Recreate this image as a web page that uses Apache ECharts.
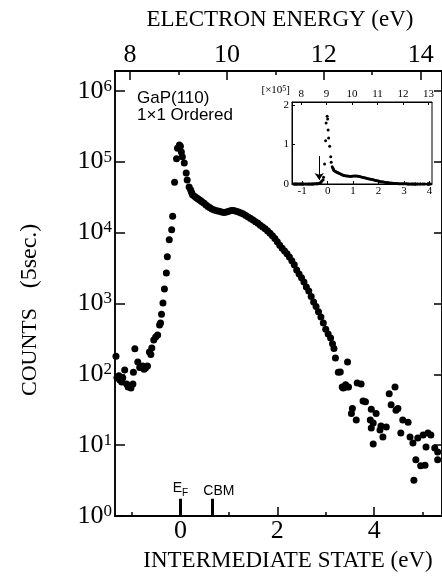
<!DOCTYPE html>
<html>
<head>
<meta charset="utf-8">
<script src="https://cdn.jsdelivr.net/npm/echarts@6/dist/echarts.min.js"></script>
<style>
html, body { margin: 0; padding: 0; background: #fff; }
#chart { width: 442px; height: 576px; }
</style>
</head>
<body>
<div id="chart"></div>
<script>
// intermediate state energy (eV)
const energies = [
    -1.33, -1.31, -1.27, -1.25, -1.21, -1.19, -1.15, -1.11, -1.08, -1.05, -1.02, -0.98, -0.97, -0.94,
    -0.88, -0.84, -0.78, -0.75, -0.72, -0.68, -0.64, -0.61, -0.59, -0.55, -0.51, -0.47, -0.43, -0.41,
    -0.39, -0.36, -0.33, -0.29, -0.27, -0.23, -0.18, -0.16, -0.12, -0.08, -0.06, -0.02, 0.00, 0.02,
    0.04, 0.08, 0.12, 0.14, 0.18, 0.21, 0.23, 0.25, 0.29, 0.33, 0.36, 0.39, 0.42, 0.45, 0.49, 0.53,
    0.57, 0.61, 0.65, 0.70, 0.75, 0.80, 0.85, 0.90, 0.95, 1.00, 1.05, 1.10, 1.15, 1.20, 1.25, 1.30,
    1.35, 1.40, 1.45, 1.50, 1.55, 1.60, 1.65, 1.70, 1.75, 1.80, 1.85, 1.90, 1.95, 2.00, 2.05, 2.10,
    2.15, 2.20, 2.25, 2.30, 2.35, 2.40, 2.45, 2.50, 2.55, 2.60, 2.65, 2.70, 2.75, 2.80, 2.85, 2.90,
    2.95, 3.00, 3.05, 3.10, 3.14, 3.17, 3.20, 3.26, 3.30, 3.34, 3.36, 3.41, 3.43, 3.45, 3.47, 3.53,
    3.55, 3.63, 3.65, 3.73, 3.77, 3.82, 3.92, 3.94, 3.94, 3.98, 3.98, 4.04, 4.12, 4.14, 4.18, 4.25,
    4.31, 4.35, 4.43, 4.45, 4.49, 4.55, 4.59, 4.70, 4.74, 4.80, 4.82, 4.86, 4.90, 4.96, 5.01, 5.05,
    5.07, 5.11, 5.17, 5.25, 5.31, 5.31
];
// counts per 5 sec
const counts = [
    180, 89, 95, 83, 78, 89, 115, 73, 66, 68, 64, 73, 107, 229,
    149, 125, 131, 118, 123, 131, 206, 190, 234, 304, 336, 357, 496, 530,
    700, 1010, 1590, 2690, 4540, 7900, 10900, 17000, 51000, 110000, 155000, 172000, 165000, 137000,
    117000, 96000, 69000, 55000, 44000, 40000, 37000, 34000, 32500, 31000, 30000, 29000, 28000, 27000, 25800, 24500,
    23300, 22300, 21500, 20800, 20300, 20000, 19500, 19100, 19500, 20000, 20400, 20400, 20000, 19500, 18800, 18200,
    17400, 16600, 15800, 15000, 14200, 13500, 12700, 12000, 11300, 10500, 9800, 9000, 8200, 7400, 6600, 6000,
    5500, 5000, 4500, 4000, 3500, 2950, 2600, 2300, 2000, 1700, 1500, 1250, 1050, 900, 760, 640,
    530, 430, 370, 325, 270, 230, 170, 107, 108, 66, 64, 71, 66, 149, 66, 28,
    33, 22.6, 75, 73, 42, 41, 22.6, 32, 17.5, 20.5, 10.4, 28, 16.3, 18.6, 13, 18,
    53, 37, 66, 31, 33, 14.8, 22.6, 21, 13, 10.7, 3.2, 6.2, 12.6, 5.1, 13.9, 5.2,
    9.4, 14.8, 13.9, 9.1, 8, 6.2
];

const energyOffset = 9.04;          // electron energy = intermediate state + offset
const decades = [1, 10, 100, 1000, 10000, 100000, 1000000];
const stateMajor = [0, 2, 4];
const stateMinor = [-1, 1, 3, 5];
const electronMajor = [8, 10, 12, 14];
const electronMinor = [9, 11, 13];
const insetState = [-1, 0, 1, 2, 3, 4];
const insetElectron = [8, 9, 10, 11, 12, 13];
const insetY = [0, 1, 2];
const markers = [{ name: 'EF', x: 0 }, { name: 'CBM', x: 0.65 }];

const serif = 'Liberation Serif';
const sans = 'Liberation Sans';

let mainData = energies.map((e, i) => [e, counts[i]]);
let insetData = energies.map((e, i) => [e, counts[i] / 1e5]);

function tickAxis(grid, pos, min, max, ticks, len, labels, size, margin, lw) {
    let line = { color: '#000', width: lw || 1.5 };
    return {
        type: 'value', gridIndex: grid, position: pos, min: min, max: max,
        axisLine: { show: true, onZero: false, lineStyle: line },
        axisTick: { show: true, inside: true, length: len, customValues: ticks, lineStyle: line },
        axisLabel: labels ? {
            show: true, customValues: labels, color: '#000', fontFamily: serif,
            fontSize: size, margin: margin
        } : { show: false },
        splitLine: { show: false }
    }
}

let supRich = {
    b: { fontFamily: serif, fontSize: 26, color: '#000' },
    s: { fontFamily: serif, fontSize: 17, color: '#000', verticalAlign: 'top' }
};

let chart = echarts.init(document.getElementById('chart'));
chart.setOption({
    animation: false,
    backgroundColor: '#fff',
    grid: [
        { left: 115, top: 71, right: -2, bottom: 60, show: true, borderColor: '#000', borderWidth: 1.5 },
        { left: 292, top: 102, width: 140, height: 82, show: true, backgroundColor: '#fff', borderColor: '#000', borderWidth: 1 }
    ],
    xAxis: [
        tickAxis(0, 'bottom', -1.35, 5.4, stateMajor, 9, stateMajor, 26, 2),
        tickAxis(0, 'bottom', -1.35, 5.4, stateMinor, 4, null),
        tickAxis(0, 'top', -1.35 + energyOffset, 5.4 + energyOffset, electronMajor, 9, electronMajor, 26, 3),
        tickAxis(0, 'top', -1.35 + energyOffset, 5.4 + energyOffset, electronMinor, 4, null),
        tickAxis(1, 'bottom', -1.4, 4.1, insetState, 3, insetState, 11, 2, 1),
        tickAxis(1, 'top', -1.4 + energyOffset, 4.1 + energyOffset, insetElectron, 3, insetElectron, 11, 2, 1)
    ],
    yAxis: [
        {
            type: 'log', logBase: 10, gridIndex: 0, position: 'left', min: 1, max: 1.9e6,
            axisLine: { show: true, onZero: false, lineStyle: { color: '#000', width: 1.5 } },
            axisTick: { show: true, inside: true, length: 10, customValues: decades, lineStyle: { color: '#000', width: 1.5 } },
            axisLabel: {
                customValues: decades, margin: 3, rich: supRich,
                formatter: v => '{b|10}{s|' + Math.round(Math.log10(v)) + '}'
            },
            splitLine: { show: false }
        },
        {
            type: 'log', logBase: 10, gridIndex: 0, position: 'right', min: 1, max: 1.9e6,
            axisLine: { show: true, onZero: false, lineStyle: { color: '#000', width: 1.5 } },
            axisTick: { show: true, inside: true, length: 8, customValues: decades, lineStyle: { color: '#000', width: 1.5 } },
            axisLabel: { show: false },
            splitLine: { show: false }
        },
        Object.assign(tickAxis(1, 'left', 0, 2.08, insetY, 3, insetY, 11, 3, 1), {
            name: '[×10{s|5}]',
            nameLocation: 'end',
            nameGap: 12,
            nameTextStyle: {
                fontFamily: serif, fontSize: 11, color: '#000', align: 'right', verticalAlign: 'middle',
                padding: [0, 2, 0, 0],
                rich: { s: { fontFamily: serif, fontSize: 8, color: '#000', verticalAlign: 'top' } }
            }
        })
    ],
    series: [
        {
            type: 'scatter', xAxisIndex: 0, yAxisIndex: 0, data: mainData,
            symbolSize: 7, itemStyle: { color: '#000', opacity: 1 }, silent: true,
            markLine: {
                silent: true, symbol: ['none', 'none'],
                lineStyle: { color: '#000', width: 3, type: 'solid', opacity: 1 },
                label: { show: true, position: 'end', distance: 1, color: '#000', fontFamily: sans, fontSize: 13 },
                data: markers.map(m => [
                    {
                        coord: [m.x, 1],
                        label: m.name === 'EF' ? {
                            formatter: '{e|E}{f|F}',
                            rich: {
                                e: { fontFamily: sans, fontSize: 14, color: '#000', verticalAlign: 'top', padding: [0, 0, 3, 0] },
                                f: { fontFamily: sans, fontSize: 10, color: '#000', verticalAlign: 'bottom' }
                            }
                        } : {
                            formatter: '{c|' + m.name + '}',
                            rich: { c: { fontFamily: sans, fontSize: 14, color: '#000', padding: [0, 0, 0, 14] } }
                        }
                    },
                    { coord: [m.x, 1.75] }
                ])
            }
        },
        {
            type: 'scatter', xAxisIndex: 4, yAxisIndex: 2, data: insetData,
            symbolSize: 3, itemStyle: { color: '#000', opacity: 1 }, silent: true,
            markLine: {
                silent: true, symbol: ['none', 'arrow'], symbolSize: 7,
                lineStyle: { color: '#000', width: 1, type: 'solid', opacity: 1 },
                label: { show: false },
                data: [[{ coord: [-0.33, 0.71] }, { coord: [-0.33, 0.1] }]]
            }
        }
    ],
    graphic: [
        { type: 'text', x: 280, y: 20, style: { text: 'ELECTRON ENERGY (eV)', fill: '#000', font: '23px "Liberation Serif"', align: 'center', verticalAlign: 'middle' } },
        { type: 'text', x: 288, y: 561, style: { text: 'INTERMEDIATE STATE (eV)', fill: '#000', font: '23px "Liberation Serif"', align: 'center', verticalAlign: 'middle' } },
        { type: 'text', x: 30, y: 352, rotation: Math.PI / 2, style: { text: 'COUNTS', fill: '#000', font: '22px "Liberation Serif"', align: 'center', verticalAlign: 'middle' } },
        { type: 'text', x: 30, y: 256, rotation: Math.PI / 2, style: { text: '(5sec.)', fill: '#000', font: '24px "Liberation Serif"', align: 'center', verticalAlign: 'middle' } },
        { type: 'text', x: 137, y: 98, style: { text: 'GaP(110)', fill: '#000', font: '17px "Liberation Sans"', align: 'left', verticalAlign: 'middle' } },
        { type: 'text', x: 137, y: 115, style: { text: '1×1 Ordered', fill: '#000', font: '17px "Liberation Sans"', align: 'left', verticalAlign: 'middle' } }
    ]
});
</script>
</body>
</html>
